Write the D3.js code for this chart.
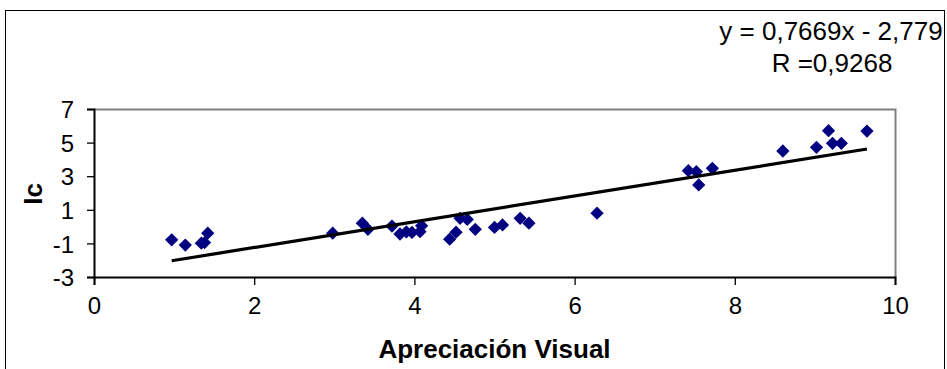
<!DOCTYPE html>
<html>
<head>
<meta charset="utf-8">
<script src="https://cdn.jsdelivr.net/npm/d3@7"></script>
<style>
  html, body { margin: 0; padding: 0; background: #fff; }
  svg { display: block; font-family: "Liberation Sans", Arial, sans-serif; }
</style>
</head>
<body>
<svg id="chart" width="947" height="369"></svg>
<script>
// Visual appraisal score (x) and Ic index (y) for each sample
const apreciacion = [0.97, 1.14, 1.34, 1.38, 1.42, 2.98, 3.35, 3.42, 3.72, 3.82,
  3.90, 3.97, 4.07, 4.09, 4.44, 4.52, 4.57, 4.66, 4.76, 5.00,
  5.10, 5.32, 5.43, 6.28, 7.42, 7.52, 7.55, 7.72, 8.60, 9.02,
  9.17, 9.22, 9.33, 9.65];
const ic = [-0.79, -1.10, -0.99, -0.95, -0.39, -0.39, 0.20, -0.16, 0.03, -0.44,
  -0.32, -0.35, -0.30, 0.05, -0.75, -0.33, 0.49, 0.43, -0.16, -0.05,
  0.10, 0.49, 0.20, 0.80, 3.33, 3.27, 2.48, 3.47, 4.50, 4.72,
  5.71, 4.96, 4.96, 5.69];

// Linear fit reported on the chart
const slope = 0.7669;
const intercept = -2.779;
const rValue = "0,9268";

const xTicks = [0, 2, 4, 6, 8, 10];
const yTicks = [-3, -1, 1, 3, 5, 7];

const svg = d3.select("#chart");
const plot = { left: 94, right: 895, top: 109, bottom: 277 };

const x = d3.scaleLinear().domain([0, 10]).range([plot.left, plot.right]);
const y = d3.scaleLinear().domain([-3, 7]).range([plot.bottom, plot.top]);

// Outer chart frame
svg.append("rect")
  .attr("x", 5.5).attr("y", 10.5)
  .attr("width", 939).attr("height", 372)
  .attr("fill", "none").attr("stroke", "#000").attr("stroke-width", 1);

// Plot area frame (grey top/right edges)
svg.append("path")
  .attr("d", `M${plot.left},${plot.top + 0.5}H${plot.right + 0.5}V${plot.bottom}`)
  .attr("fill", "none").attr("stroke", "#808080").attr("stroke-width", 2);

// Axes
const xAxis = svg.append("g")
  .attr("transform", `translate(0,${plot.bottom})`)
  .call(d3.axisBottom(x).tickValues(xTicks).tickSize(8).tickPadding(12).tickFormat(d3.format("d")));
const yAxis = svg.append("g")
  .attr("transform", `translate(${plot.left},0)`)
  .call(d3.axisLeft(y).tickValues(yTicks).tickSize(7).tickPadding(13).tickFormat(d => String(d)));

[xAxis, yAxis].forEach(g => {
  g.select(".domain").attr("stroke", "#000").attr("stroke-width", 2);
  g.selectAll(".tick line").attr("stroke", "#000").attr("stroke-width", 1.3);
  g.selectAll(".tick text")
    .attr("fill", "#000")
    .style("font-family", "\"Liberation Sans\", Arial, sans-serif")
    .style("font-size", "24px");
});
yAxis.selectAll(".tick text").attr("dy", "0.36em");

// Points: navy diamonds
const diamond = d3.symbol().type(d3.symbolSquare).size(88);
svg.append("g")
  .selectAll("path")
  .data(apreciacion.map((v, i) => [v, ic[i]]))
  .join("path")
  .attr("d", diamond)
  .attr("transform", d => `translate(${x(d[0])},${y(d[1])}) rotate(45)`)
  .attr("fill", "#000080");

// Trend line across the data range
const xMin = d3.min(apreciacion), xMax = d3.max(apreciacion);
svg.append("line")
  .attr("x1", x(xMin)).attr("y1", y(slope * xMin + intercept))
  .attr("x2", x(xMax)).attr("y2", y(slope * xMax + intercept))
  .attr("stroke", "#000").attr("stroke-width", 3.2);

// Axis titles
svg.append("text")
  .attr("x", (plot.left + plot.right) / 2).attr("y", 358)
  .attr("text-anchor", "middle")
  .style("font-size", "26px").style("font-weight", "bold")
  .text("Apreciación Visual");

svg.append("text")
  .attr("transform", `translate(42,${(plot.top + plot.bottom) / 2 + 1}) rotate(-90)`)
  .attr("text-anchor", "middle")
  .style("font-size", "26px").style("font-weight", "bold")
  .text("Ic");

// Regression label
const fmtNum = v => String(v).replace(".", ",");
const eq = `y = ${fmtNum(slope)}x - ${fmtNum(Math.abs(intercept))}`;
svg.append("text")
  .attr("x", 831).attr("y", 40)
  .attr("text-anchor", "middle")
  .style("font-size", "26px")
  .text(eq);
svg.append("text")
  .attr("x", 832).attr("y", 72)
  .attr("text-anchor", "middle")
  .style("font-size", "26px")
  .text(`R =${rValue}`);
</script>
</body>
</html>
